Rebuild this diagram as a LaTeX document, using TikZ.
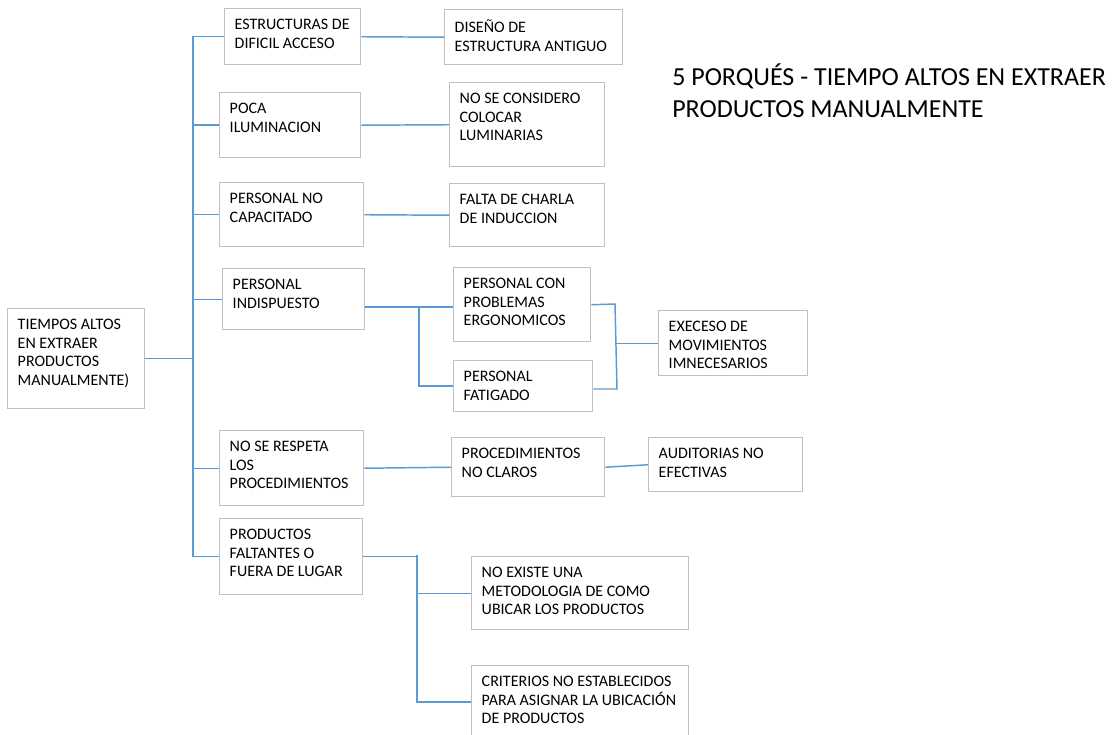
\documentclass[tikz,border=0pt]{standalone}
\usepackage{fontspec}
\setmainfont{Carlito}
\usetikzlibrary{calc}

\definecolor{linkblue}{RGB}{91,155,213}
\definecolor{boxgray}{RGB}{191,191,191}

\tikzset{
  causebox/.style={draw=boxgray, line width=1.1pt, fill=white, inner sep=0pt, anchor=north west},
  link/.style={draw=linkblue, line width=1.1pt},
}

% \causenode{name}{x1}{y1}{x2}{y2}{text}: framed box with the text set top-left
\newcommand\causenode[6]{%
  \pgfmathsetlengthmacro\cbw{(#4-#2)*0.75pt}%
  \pgfmathsetlengthmacro\cbh{(#5-#3)*0.75pt}%
  \node[causebox] (#1) at (#2,#3) {%
    \begin{minipage}[t][\cbh][t]{\cbw}%
      \fontsize{12pt}{14pt}\selectfont\raggedright
      \leftskip=7.5pt\relax
      \vspace*{7.5pt}%
      \leavevmode\rule{0pt}{8pt}#6\par
    \end{minipage}};%
}

\begin{document}
\begin{tikzpicture}[x=0.75pt, y=-0.75pt]
\useasboundingbox (0,0) rectangle (1115,735);

% root problem
\causenode{root}{7}{308}{144}{408}{TIEMPOS ALTOS\\EN EXTRAER\\PRODUCTOS\\MANUALMENTE)}

% first level causes
\causenode{a1}{224}{8}{360}{64}{ESTRUCTURAS DE\\DIFICIL ACCESO}
\causenode{a2}{219}{92}{360}{157}{POCA\\ILUMINACION}
\causenode{a3}{219}{182}{363}{246}{PERSONAL NO\\CAPACITADO}
\causenode{a4}{222}{268}{364}{329}{PERSONAL\\INDISPUESTO}
\causenode{a5}{219}{430}{363}{505}{NO SE RESPETA\\LOS\\PROCEDIMIENTOS}
\causenode{a6}{219}{518}{362}{594}{PRODUCTOS\\FALTANTES O\\FUERA DE LUGAR}

% second level causes
\causenode{b1}{444}{9}{622}{64}{DISEÑO DE\\ESTRUCTURA ANTIGUO}
\causenode{b2}{449}{82}{604}{166}{NO SE CONSIDERO\\COLOCAR\\LUMINARIAS}
\causenode{b3}{449}{183}{604}{246}{FALTA DE CHARLA\\DE INDUCCION}
\causenode{b4a}{453}{267}{590}{341}{PERSONAL CON\\PROBLEMAS\\ERGONOMICOS}
\causenode{b4b}{453}{360}{592}{411}{PERSONAL\\FATIGADO}
\causenode{b5}{451}{437}{604}{496}{PROCEDIMIENTOS\\NO CLAROS}
\causenode{b6a}{471}{556}{688}{629}{NO EXISTE UNA\\METODOLOGIA DE COMO\\UBICAR LOS PRODUCTOS}
\causenode{b6b}{471}{665}{688}{742}{CRITERIOS NO ESTABLECIDOS\\PARA ASIGNAR LA UBICACIÓN\\DE PRODUCTOS}

% third level causes
\causenode{c4}{658}{310}{807}{375}{EXECESO DE\\MOVIMIENTOS\\IMNECESARIOS}
\causenode{c5}{648}{437}{802}{491}{AUDITORIAS NO\\EFECTIVAS}

% title
\node[anchor=north west, inner sep=0pt, align=left,
      font=\fontsize{19.5pt}{24pt}\selectfont] (title) at (672,64)
  {5 PORQUÉS - TIEMPO ALTOS EN EXTRAER\\PRODUCTOS MANUALMENTE};

% junction points
\coordinate (trunkTop) at (193,36);
\coordinate (trunkBot) at (193,557);
\coordinate (j4) at (419,307);
\coordinate (j4b) at (419,386);
\coordinate (k1) at (615,304);
\coordinate (k2) at (617,389);
\coordinate (j6) at (417,555);
\coordinate (j6b) at (417,702);

% main trunk
\draw[link] (trunkTop) -- (trunkBot);
\draw[link] (root.east) -- (root.east -| trunkTop);
\foreach \n in {a1,a2,a3,a4,a5,a6}
  \draw[link] (\n.west -| trunkTop) -- (\n.west);

% first to second level
\draw[link] (a1.east) -- (b1.west);
\draw[link] (a2.east) -- (b2.west);
\draw[link] (a3.east) -- (b3.west);
\draw[link] (a4.east |- j4) -- (j4) -- (b4a.west |- j4);
\draw[link] (j4) -- (j4b) -- (b4b.west |- j4b);
\draw[link] (a5.east) -- (b5.west);
\draw[link] (a6.east) -- (a6.east -| j6);
\draw[link] (j6) -- (j6b) -- (b6b.west |- j6b);
\draw[link] (b6a.west -| j6) -- (b6a.west);

% second to third level
\draw[link] (b4a.east) -- (k1) -- (k2) -- (b4b.east |- k2);
\draw[link] (c4.west -| k1) -- (c4.west);
\draw[link] (b5.east) -- (c5.west);
\end{tikzpicture}
\end{document}
